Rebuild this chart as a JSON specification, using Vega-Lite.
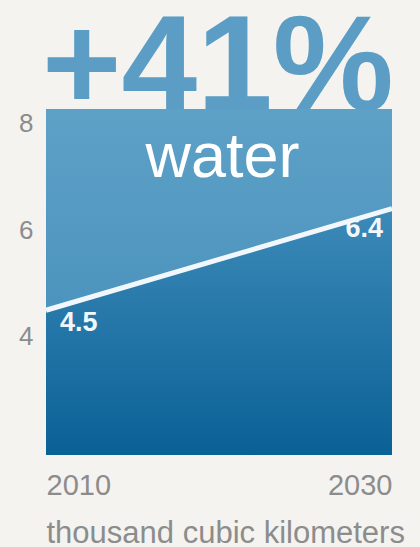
{
  "$schema": "https://vega.github.io/schema/vega-lite/v6.json",
  "width": 346,
  "height": 346,
  "autosize": {"type": "none"},
  "padding": {"left": 46, "top": 109, "right": 28, "bottom": 92},
  "background": "#f4f3ef",
  "config": {"view": {"stroke": null}, "font": "Liberation Sans"},
  "data": {"values": [{"year": 2010, "value": 4.5, "label": "+41%", "name": "water"}, {"year": 2030, "value": 6.4, "label": "+41%", "name": "water"}]},
  "encoding": {
    "x": {
      "field": "year", "type": "quantitative",
      "scale": {"domain": [2010, 2030], "nice": false, "zero": false},
      "axis": {
        "values": [2010, 2030], "format": "d", "labelFlush": true,
        "labelFontSize": 29, "labelColor": "#8c8c8c", "labelPadding": 16,
        "ticks": false, "tickSize": 0, "domain": false, "grid": false,
        "title": "thousand cubic kilometers", "titleFontSize": 31, "titleFontWeight": "normal",
        "titleColor": "#8c8c8c", "titleAnchor": "start", "titleAlign": "left", "titlePadding": 18
      }
    },
    "y": {
      "field": "value", "type": "quantitative",
      "scale": {"domain": [1.794, 8.262], "nice": false, "zero": false},
      "axis": {
        "values": [4, 6, 8], "labelFontSize": 26, "labelColor": "#8c8c8c", "labelPadding": 13,
        "ticks": false, "tickSize": 0, "domain": false, "grid": false, "title": null
      }
    }
  },
  "layer": [
    {
      "transform": [{"filter": "datum.year == 2010"}],
      "mark": {"type": "text", "align": "left", "baseline": "alphabetic", "fontSize": 136, "fontWeight": "bold", "letterSpacing": -6, "color": "#5b9dc4", "dx": -4},
      "encoding": {
        "y": {"datum": 8.243},
        "text": {"field": "label"}
      }
    },
    {
      "transform": [{"filter": "datum.year == 2010"}],
      "mark": {"type": "rect", "fill": {"gradient": "linear", "x1": 0, "y1": 0, "x2": 0, "y2": 1, "stops": [{"offset": 0, "color": "#5ea1c7"}, {"offset": 1, "color": "#3f8ab7"}]}},
      "encoding": {
        "x2": {"datum": 2030},
        "y": {"datum": 8.262},
        "y2": {"datum": 1.794}
      }
    },
    {
      "mark": {"type": "area", "fill": {"gradient": "linear", "x1": 0, "y1": 0, "x2": 0, "y2": 1, "stops": [{"offset": 0, "color": "#3c8ab8"}, {"offset": 1, "color": "#0a6196"}]}},
      "encoding": {
        "y2": {"datum": 1.794}
      }
    },
    {
      "mark": {"type": "line", "color": "#f2f7fb", "strokeWidth": 5},
      "encoding": {}
    },
    {
      "transform": [{"filter": "datum.year == 2010"}],
      "mark": {"type": "text", "align": "center", "baseline": "alphabetic", "fontSize": 63, "letterSpacing": -1, "color": "#ffffff"},
      "encoding": {
        "x": {"datum": 2020.2},
        "y": {"datum": 7.0},
        "text": {"field": "name"}
      }
    },
    {
      "transform": [{"filter": "datum.year == 2010"}],
      "mark": {"type": "text", "align": "left", "baseline": "middle", "fontSize": 27, "fontWeight": "bold", "color": "#f2f7fb", "dx": 14, "dy": 13},
      "encoding": {"text": {"field": "value", "format": ".1f"}}
    },
    {
      "transform": [{"filter": "datum.year == 2030"}],
      "mark": {"type": "text", "align": "right", "baseline": "middle", "fontSize": 27, "fontWeight": "bold", "color": "#f2f7fb", "dx": -9, "dy": 20},
      "encoding": {"text": {"field": "value", "format": ".1f"}}
    }
  ]
}
